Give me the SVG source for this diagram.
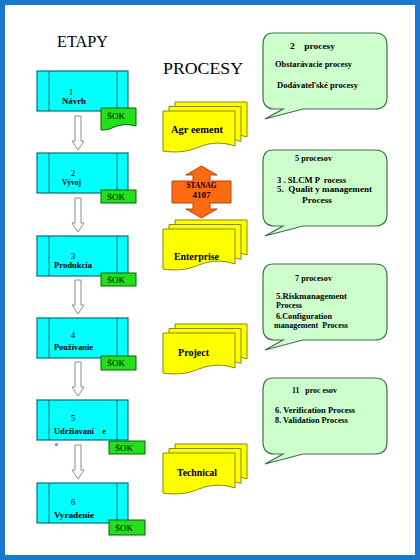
<svg xmlns="http://www.w3.org/2000/svg" width="420" height="560" viewBox="0 0 420 560" font-family="'Liberation Serif', 'DejaVu Serif', serif">
<style>
text{font-family:'Liberation Serif','DejaVu Serif',serif;fill:#000}
.title{font-size:16px}
.b{font-weight:bold}
.s9{font-size:9px}
.s8{font-size:8.5px}
.s10{font-size:10px}
.box{fill:#00ffff;stroke:#0a6e72;stroke-width:1.2}
.inner{stroke:#0a6e72;stroke-width:1}
.sok{fill:#22e01a;stroke:#0b5e0b;stroke-width:1}
.page{fill:#ffff00;stroke:#8a8a00;stroke-width:1}
.arr{fill:#fff;stroke:#8c8c8c;stroke-width:1}
.call{fill:#ccffcc;stroke:#3f6f4f;stroke-width:1.2}
.stanag{fill:#ff6a10;stroke:#b8420a;stroke-width:1}
</style>
<defs>
<path id="pg" d="M0,0 H72 V35 C60,31 48,31 36,36 C24,41 12,42 0,40 Z"/>
<path id="dn" d="M-3,0 H3 V25 H6 L0,34 L-6,25 H-3 Z"/>
<path id="cl" d="M10,0 H112 Q124,0 124,12 V64 Q124,76 112,76 H40 L2,86 L20,76 H12 Q0,76 0,64 V12 Q0,0 10,0 Z"/>
</defs>
<rect x="2.5" y="2.5" width="415" height="555" fill="#fff" stroke="#1a78cc" stroke-width="5"/>
<text class="title" x="57" y="47" textLength="51" lengthAdjust="spacingAndGlyphs">ETAPY</text>
<text class="title" x="163" y="74" font-size="17" textLength="80" lengthAdjust="spacingAndGlyphs">PROCESY</text>

<g id="connectors">
<use href="#dn" class="arr" transform="translate(78,116)"/>
<use href="#dn" class="arr" transform="translate(78,198)"/>
<use href="#dn" class="arr" transform="translate(78,280)"/>
<use href="#dn" class="arr" transform="translate(78,362)"/>
<use href="#dn" class="arr" transform="translate(78,445)"/>
</g>

<g id="phase1">
<rect class="box" x="37" y="71" width="91" height="40"/>
<line class="inner" x1="49" y1="71" x2="49" y2="111"/><line class="inner" x1="117" y1="71" x2="117" y2="111"/>
<text class="s9" x="71" y="95" text-anchor="middle">1</text>
<text class="s9 b" x="62" y="104" textLength="24" lengthAdjust="spacingAndGlyphs">Návrh</text>
<path class="sok" d="M101,108 H136 V126 C128,124 120,124 112,128 C108,130 104,130 101,130 Z"/>
<text class="s9" x="107" y="119" textLength="18" lengthAdjust="spacingAndGlyphs">ŠOK</text>
</g>
<g id="phase2">
<rect class="box" x="37" y="153" width="91" height="40"/>
<line class="inner" x1="49" y1="153" x2="49" y2="193"/><line class="inner" x1="117" y1="153" x2="117" y2="193"/>
<text class="s9" x="73" y="176" text-anchor="middle">2</text>
<text class="s9 b" x="62" y="185" textLength="19" lengthAdjust="spacingAndGlyphs">Vývoj</text>
<rect class="sok" x="101" y="190" width="35" height="13"/>
<text class="s9" x="107" y="200" textLength="18" lengthAdjust="spacingAndGlyphs">ŠOK</text>
</g>
<g id="phase3">
<rect class="box" x="37" y="236" width="91" height="40"/>
<line class="inner" x1="49" y1="236" x2="49" y2="276"/><line class="inner" x1="117" y1="236" x2="117" y2="276"/>
<text class="s9" x="73" y="259" text-anchor="middle">3</text>
<text class="s9 b" x="54" y="268" textLength="38" lengthAdjust="spacingAndGlyphs">Produkcia</text>
<rect class="sok" x="101" y="273" width="35" height="13"/>
<text class="s9" x="107" y="283" textLength="18" lengthAdjust="spacingAndGlyphs">ŠOK</text>
</g>
<g id="phase4">
<rect class="box" x="37" y="318" width="91" height="40"/>
<line class="inner" x1="49" y1="318" x2="49" y2="358"/><line class="inner" x1="117" y1="318" x2="117" y2="358"/>
<text class="s9" x="73" y="338" text-anchor="middle">4</text>
<text class="s9 b" x="54" y="350" textLength="39" lengthAdjust="spacingAndGlyphs">Používanie</text>
<rect class="sok" x="101" y="356" width="35" height="14"/>
<text class="s9" x="107" y="366" textLength="18" lengthAdjust="spacingAndGlyphs">ŠOK</text>
</g>
<g id="phase5">
<rect class="box" x="37" y="400" width="91" height="40"/>
<line class="inner" x1="49" y1="400" x2="49" y2="440"/><line class="inner" x1="117" y1="400" x2="117" y2="440"/>
<text class="s9" x="73" y="421" text-anchor="middle">5</text>
<text class="s9 b" x="54" y="434" xml:space="preserve" textLength="52" lengthAdjust="spacingAndGlyphs">Udržiavaní    e</text>
<text font-size="7" x="55" y="446">e</text>
<rect class="sok" x="109" y="441" width="36" height="13"/>
<text class="s9" x="115" y="451" textLength="18" lengthAdjust="spacingAndGlyphs">ŠOK</text>
</g>
<g id="phase6">
<rect class="box" x="37" y="483" width="91" height="40"/>
<line class="inner" x1="49" y1="483" x2="49" y2="523"/><line class="inner" x1="117" y1="483" x2="117" y2="523"/>
<text class="s9" x="73" y="505" text-anchor="middle">6</text>
<text class="s9 b" x="54" y="518" textLength="40" lengthAdjust="spacingAndGlyphs">Vyradenie</text>
<rect class="sok" x="109" y="520" width="36" height="15"/>
<text class="s9" x="115" y="531" textLength="18" lengthAdjust="spacingAndGlyphs">ŠOK</text>
</g>

<g id="agreement">
<use href="#pg" class="page" transform="translate(175,102)"/>
<use href="#pg" class="page" transform="translate(169,106.5)"/>
<use href="#pg" class="page" transform="translate(163,111)"/>
<text class="s10 b" x="171" y="133" xml:space="preserve" textLength="52" lengthAdjust="spacingAndGlyphs">Agr eement</text>
</g>
<g id="stanag">
<path class="stanag" d="M201.5,166 L217,175 H210 V181 H231 V203 H210 V209 H217 L201.5,218 L186,209 H193 V203 H172 V181 H193 V175 H186 Z"/>
<text class="s9 b" x="201.5" y="188" text-anchor="middle" textLength="30" lengthAdjust="spacingAndGlyphs">STANAG</text>
<text class="s9 b" x="201.5" y="198" text-anchor="middle">4107</text>
</g>
<g id="enterprise">
<use href="#pg" class="page" transform="translate(175,220)"/>
<use href="#pg" class="page" transform="translate(169,224.5)"/>
<use href="#pg" class="page" transform="translate(163,229)"/>
<text class="s10 b" x="174" y="260" textLength="45" lengthAdjust="spacingAndGlyphs">Enterprise</text>
</g>
<g id="project">
<use href="#pg" class="page" transform="translate(175,324)"/>
<use href="#pg" class="page" transform="translate(169,328.5)"/>
<use href="#pg" class="page" transform="translate(163,333)"/>
<text class="s10 b" x="178" y="356" textLength="31" lengthAdjust="spacingAndGlyphs">Project</text>
</g>
<g id="technical">
<use href="#pg" class="page" transform="translate(175,444)"/>
<use href="#pg" class="page" transform="translate(169,448.5)"/>
<use href="#pg" class="page" transform="translate(163,453)"/>
<text class="s10 b" x="177" y="476" textLength="40" lengthAdjust="spacingAndGlyphs">Technical</text>
</g>

<g id="callout1">
<use href="#cl" class="call" transform="translate(263,33)"/>
<text class="s9 b" x="290" y="49" xml:space="preserve" textLength="45" lengthAdjust="spacingAndGlyphs">2    procesy</text>
<text class="s8 b" x="275" y="67" textLength="77" lengthAdjust="spacingAndGlyphs">Obstarávacie procesy</text>
<text class="s8 b" x="277" y="88" textLength="81" lengthAdjust="spacingAndGlyphs">Dodávateľské procesy</text>
</g>
<g id="callout2">
<use href="#cl" class="call" transform="translate(263,150)"/>
<text class="s9 b" x="295" y="161" textLength="37" lengthAdjust="spacingAndGlyphs">5 procesov</text>
<text class="s8 b" x="277" y="183" xml:space="preserve" textLength="69" lengthAdjust="spacingAndGlyphs">3 . SLCM P  rocess</text>
<text class="s8 b" x="277" y="192" xml:space="preserve" textLength="95" lengthAdjust="spacingAndGlyphs">5.  Qualit y management</text>
<text class="s8 b" x="302" y="203" textLength="30" lengthAdjust="spacingAndGlyphs">Process</text>
</g>
<g id="callout3">
<use href="#cl" class="call" transform="translate(263,264)"/>
<text class="s9 b" x="295" y="281" textLength="37" lengthAdjust="spacingAndGlyphs">7 procesov</text>
<text class="s8 b" x="276" y="299" textLength="71" lengthAdjust="spacingAndGlyphs">5.Riskmanagement</text>
<text class="s8 b" x="276" y="308" textLength="26" lengthAdjust="spacingAndGlyphs">Process</text>
<text class="s8 b" x="276" y="319" textLength="56" lengthAdjust="spacingAndGlyphs">6.Configuration</text>
<text class="s8 b" x="274" y="328" xml:space="preserve" textLength="74" lengthAdjust="spacingAndGlyphs">management  Process</text>
</g>
<g id="callout4">
<use href="#cl" class="call" transform="translate(263,378)"/>
<text class="s9 b" x="292" y="393" xml:space="preserve" textLength="45" lengthAdjust="spacingAndGlyphs">11   proc esov</text>
<text class="s8 b" x="275" y="413" textLength="80" lengthAdjust="spacingAndGlyphs">6. Verification Process</text>
<text class="s8 b" x="275" y="423" textLength="73" lengthAdjust="spacingAndGlyphs">8. Validation Process</text>
</g>
</svg>
